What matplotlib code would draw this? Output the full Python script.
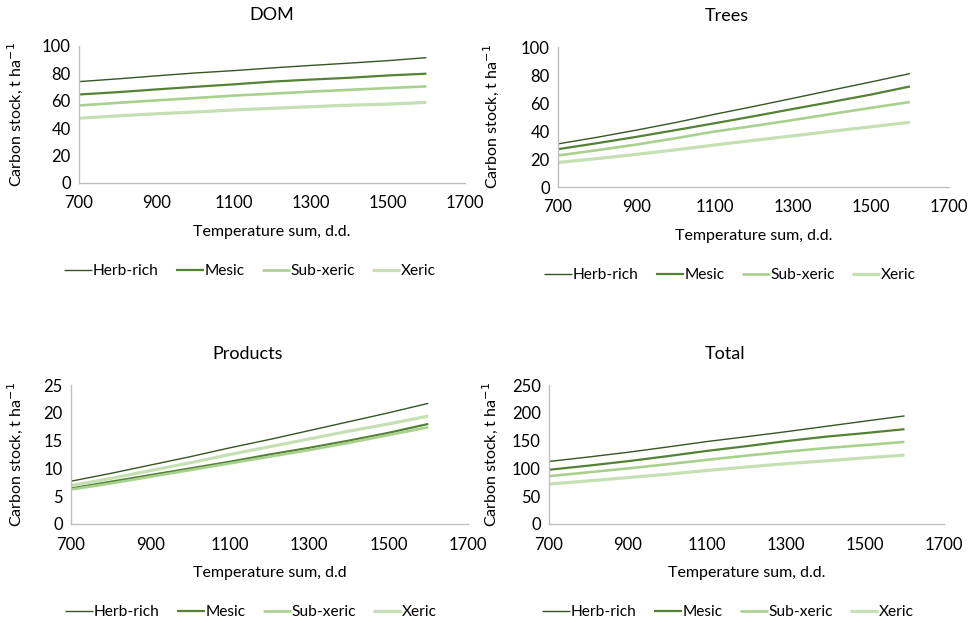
"""
Carbon stock vs temperature sum for four site types, four panels
(DOM, Trees, Products, Total) in an Excel-like style.
"""

import matplotlib

matplotlib.use("Agg")
import matplotlib.pyplot as plt

plt.rcParams["font.family"] = ["Lato", "DejaVu Sans"]

# ---------------------------------------------------------------------------
# Data
# ---------------------------------------------------------------------------

temp_sum = [700, 800, 900, 1000, 1100, 1200, 1300, 1400, 1500, 1600]
site_types = ["Herb-rich", "Mesic", "Sub-xeric", "Xeric"]

dom_herb = [74.0, 76.0, 78.2, 80.3, 82.0, 84.0, 85.8, 87.5, 89.3, 91.5]
dom_mesic = [64.6, 66.3, 68.3, 70.2, 72.0, 74.0, 75.5, 76.8, 78.5, 79.8]
dom_subxeric = [56.6, 58.5, 60.3, 62.0, 63.8, 65.2, 66.7, 68.0, 69.3, 70.5]
dom_xeric = [47.3, 49.0, 50.5, 51.8, 53.3, 54.5, 55.7, 56.8, 57.6, 58.8]

trees_herb = [30.8, 35.5, 40.6, 46.0, 51.9, 57.5, 63.3, 69.2, 75.0, 81.0]
trees_mesic = [27.0, 31.3, 35.8, 40.6, 45.5, 50.5, 55.7, 60.8, 66.0, 71.8]
trees_subxeric = [22.5, 26.3, 30.3, 34.8, 39.6, 43.6, 47.8, 52.2, 56.5, 60.7]
trees_xeric = [17.5, 20.3, 23.3, 26.5, 30.0, 33.3, 36.5, 39.8, 43.0, 46.2]

prod_herb = [7.7, 9.1, 10.6, 12.1, 13.7, 15.2, 16.8, 18.4, 20.0, 21.7]
prod_mesic = [6.4, 7.6, 8.8, 10.0, 11.2, 12.5, 13.7, 15.0, 16.4, 18.0]
prod_subxeric = [6.2, 7.3, 8.5, 9.7, 10.9, 12.1, 13.3, 14.6, 16.0, 17.4]
prod_xeric = [6.9, 8.2, 9.6, 11.0, 12.5, 13.9, 15.3, 16.7, 18.0, 19.4]

total_herb = [112.4, 120.5, 129.0, 138.5, 148.3, 157.0, 166.0, 175.5, 185.0, 194.4]
total_mesic = [97.5, 105.0, 113.0, 122.0, 131.5, 140.0, 149.0, 157.0, 163.5, 170.5]
total_subxeric = [86.1, 93.0, 100.0, 107.5, 115.4, 123.0, 130.0, 136.5, 142.0, 147.7]
total_xeric = [71.8, 77.5, 83.5, 89.5, 96.3, 102.5, 108.5, 113.5, 119.0, 123.8]

x_ticks = [700, 900, 1100, 1300, 1500, 1700]

# ---------------------------------------------------------------------------
# Style
# ---------------------------------------------------------------------------

LINE_COLORS = ["#375623", "#548235", "#A9D18E", "#C5E0B4"]
LINE_WIDTHS = [1.0, 1.6, 1.9, 2.3]
SPINE_COLOR = "#BFBFBF"
TEXT_COLOR = "#000000"
TICK_FS = 12
LABEL_FS = 11.5
TITLE_FS = 13
LEGEND_FS = 11.2

W, H = 969, 623

# name, series, ymax, ystep, axes box in px (left, top, right, bottom),
# title x, xlabel text, legend centre x, ylabel right edge x
panels = [
    ("DOM", [dom_herb, dom_mesic, dom_subxeric, dom_xeric], 100, 20,
     (79, 46, 465, 183), 272, "Temperature sum, d.d.", 250, 25),
    ("Trees", [trees_herb, trees_mesic, trees_subxeric, trees_xeric], 100, 20,
     (558, 47, 949, 187), 727, "Temperature sum, d.d.", 730, 501),
    ("Products", [prod_herb, prod_mesic, prod_subxeric, prod_xeric], 25, 5,
     (71, 385, 468, 524), 248, "Temperature sum, d.d", 251, 25),
    ("Total", [total_herb, total_mesic, total_subxeric, total_xeric], 250, 50,
     (549, 385, 944, 524), 725, "Temperature sum, d.d.", 728, 500),
]

fig = plt.figure(figsize=(W / 100, H / 100), dpi=100)
fig.patch.set_facecolor("white")

for name, series, ymax, ystep, box, title_x, xlabel, leg_x, ylab_x in panels:
    left, top, right, bottom = box
    ax = fig.add_axes([left / W, 1 - bottom / H, (right - left) / W, (bottom - top) / H])

    for vals, label, color, lw in zip(series, site_types, LINE_COLORS, LINE_WIDTHS):
        ax.plot(temp_sum, vals, color=color, linewidth=lw, label=label,
                solid_capstyle="butt")

    ax.set_xlim(700, 1700)
    ax.set_ylim(0, ymax)
    ax.set_xticks(x_ticks)
    ax.set_yticks(range(0, ymax + 1, ystep))
    ax.tick_params(length=0, labelsize=TICK_FS, colors=TEXT_COLOR)
    ax.tick_params(axis="x", pad=9)
    ax.tick_params(axis="y", pad=6)

    for side in ("top", "right"):
        ax.spines[side].set_visible(False)
    for side in ("left", "bottom"):
        ax.spines[side].set_color(SPINE_COLOR)
        ax.spines[side].set_linewidth(1.0)

    ax.set_xlabel(xlabel, fontsize=LABEL_FS, labelpad=10)
    ax.set_ylabel("Carbon stock, t ha$^{-1}$", fontsize=LABEL_FS)
    ax.yaxis.set_label_coords((ylab_x - left) / (right - left), 0.5)

    fig.text(title_x / W, 1 - (top - 31) / H, name, ha="center", va="center",
             fontsize=TITLE_FS)

    # legend sits a fixed distance below the plot area, as in the Excel layout
    leg_y = bottom + 88
    ax.legend(loc="center", bbox_to_anchor=(leg_x / W, 1 - leg_y / H),
              bbox_transform=fig.transFigure, ncol=4, frameon=False,
              fontsize=LEGEND_FS, handlelength=1.8, handletextpad=0.05,
              columnspacing=1.1)

fig.savefig("out.png", dpi=100)
